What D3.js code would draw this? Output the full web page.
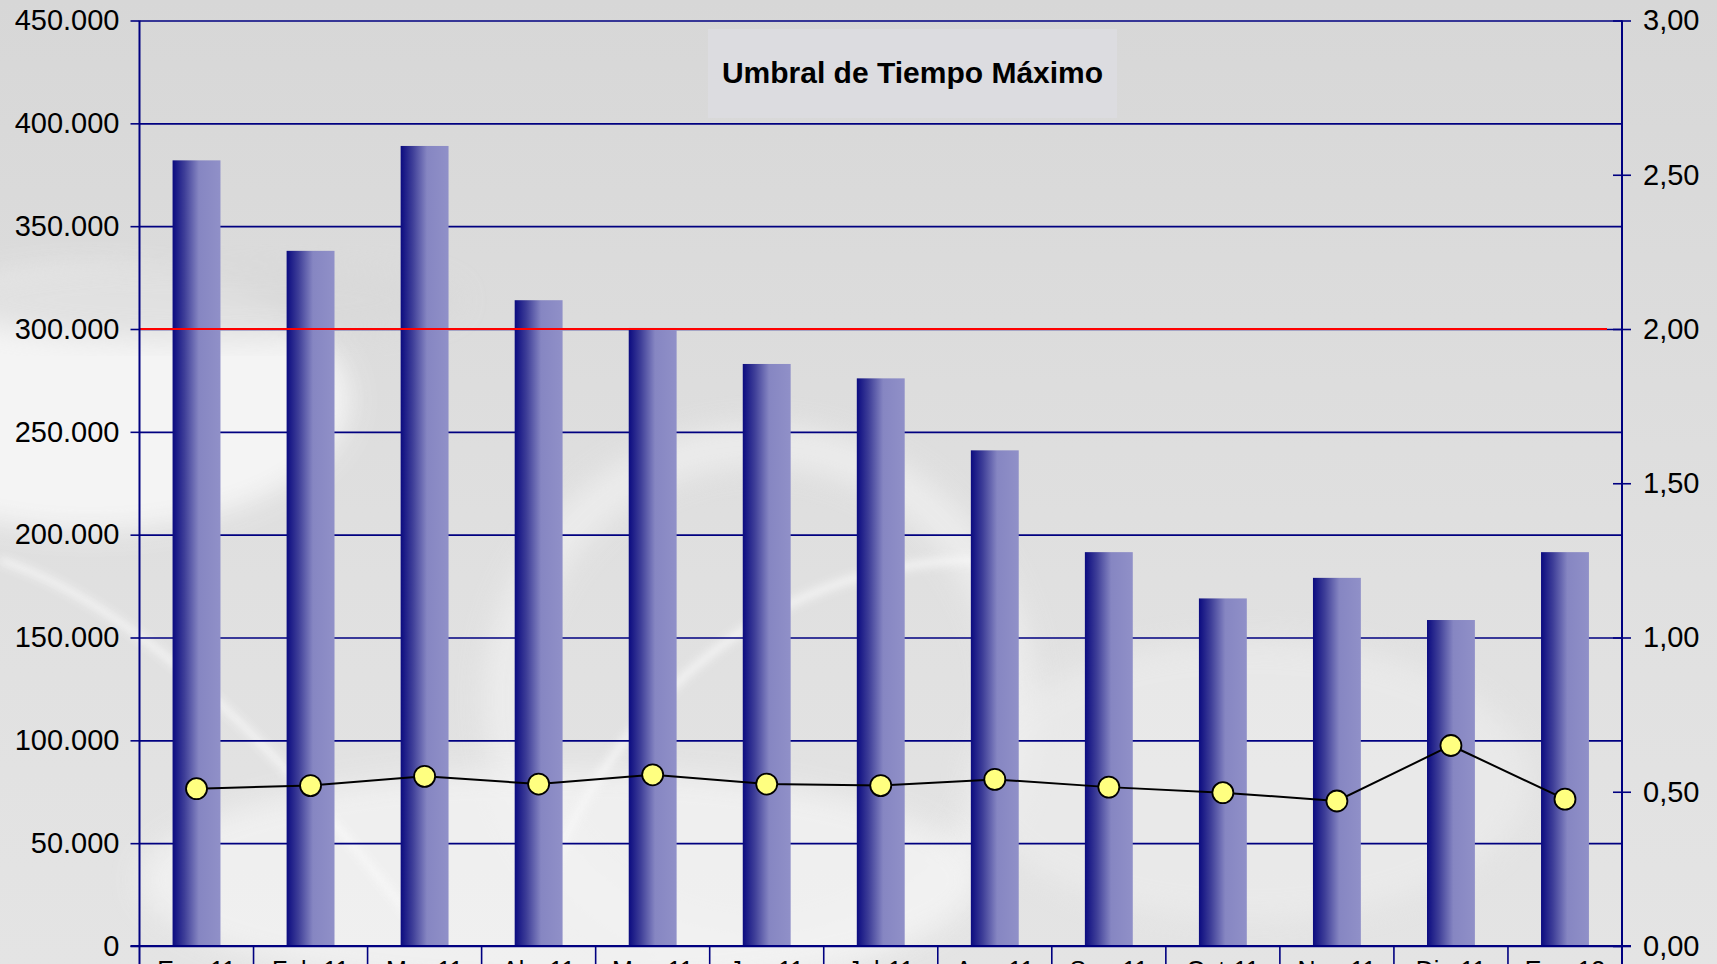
<!DOCTYPE html>
<html>
<head>
<meta charset="utf-8">
<script src="https://cdn.jsdelivr.net/npm/d3@7"></script>
<style>
    body { margin: 0; background: #d9d9d9; }
    svg { display: block; }
    text { font-family: "Liberation Sans", Arial, sans-serif; fill: #000; }
</style>
</head>
<body>
<svg id="chart" width="1717" height="964"></svg>
<script>
// Data
var months = ["Ene-11", "Feb-11", "Mar-11", "Abr-11", "May-11", "Jun-11", "Jul-11",
              "Ago-11", "Sep-11", "Oct-11", "Nov-11", "Dic-11", "Ene-12"];
var tiempoMaximo = [382000, 338000, 389000, 314000, 300500, 283000, 276000,
                    241000, 191500, 169000, 179000, 158500, 191500];
var ratio = [0.51, 0.52, 0.55, 0.525, 0.555, 0.525, 0.52, 0.54, 0.515, 0.497, 0.47, 0.65, 0.476];
var umbral = 300000;
var leftTicks = d3.range(0, 450001, 50000);
var rightTicks = d3.range(0, 3.01, 0.5);
var title = "Umbral de Tiempo Máximo";

var navy = "#000080";

var plot = { left: 139.5, right: 1622, top: 20.5, bottom: 946 };

var locale = d3.formatLocale({ decimal: ",", thousands: ".", grouping: [3], currency: ["", ""] });
var fmtLeft = locale.format(",.0f");
var fmtRight = locale.format(".2f");

var svg = d3.select("#chart");
var defs = svg.append("defs");

// Background: grey with soft light swirls
var bgGrad = defs.append("linearGradient")
    .attr("id", "bgGrad").attr("x1", 0).attr("y1", 0).attr("x2", 0).attr("y2", 1);
bgGrad.append("stop").attr("offset", "0%").attr("stop-color", "#d7d7d7");
bgGrad.append("stop").attr("offset", "60%").attr("stop-color", "#e0e0e0");
bgGrad.append("stop").attr("offset", "100%").attr("stop-color", "#e4e4e4");

defs.append("filter").attr("id", "blur")
    .attr("x", "-20%").attr("y", "-20%").attr("width", "140%").attr("height", "140%")
    .append("feGaussianBlur").attr("stdDeviation", 14);
defs.append("filter").attr("id", "blurSmall")
    .attr("x", "-20%").attr("y", "-20%").attr("width", "140%").attr("height", "140%")
    .append("feGaussianBlur").attr("stdDeviation", 4);

svg.append("rect")
    .attr("width", 1717).attr("height", 964)
    .attr("fill", "url(#bgGrad)");

var swirl = svg.append("g").attr("class", "swirl");
swirl.append("ellipse")
    .attr("cx", 90).attr("cy", 400).attr("rx", 260).attr("ry", 130)
    .attr("fill", "#f7f7f7").attr("opacity", 0.9).attr("filter", "url(#blur)");
swirl.append("ellipse")
    .attr("cx", 200).attr("cy", 300).attr("rx", 260).attr("ry", 40)
    .attr("fill", "#d9d9d9").attr("opacity", 0.7).attr("filter", "url(#blur)");
swirl.append("circle")
    .attr("cx", 760).attr("cy", 700).attr("r", 255)
    .attr("fill", "none").attr("stroke", "#f2f2f2").attr("stroke-width", 40)
    .attr("opacity", 0.7).attr("filter", "url(#blur)");
swirl.append("ellipse")
    .attr("cx", 560).attr("cy", 880).attr("rx", 420).attr("ry", 110)
    .attr("fill", "#f3f3f3").attr("opacity", 0.8).attr("filter", "url(#blur)");
swirl.append("ellipse")
    .attr("cx", 1250).attr("cy", 780).attr("rx", 280).attr("ry", 140)
    .attr("fill", "#eeeeee").attr("opacity", 0.6).attr("filter", "url(#blur)");
swirl.append("path")
    .attr("d", "M0,560 C120,600 260,720 420,930")
    .attr("fill", "none").attr("stroke", "#fafafa").attr("stroke-width", 6)
    .attr("opacity", 0.9).attr("filter", "url(#blurSmall)");
swirl.append("path")
    .attr("d", "M540,900 C600,720 760,560 980,560")
    .attr("fill", "none").attr("stroke", "#f8f8f8").attr("stroke-width", 8)
    .attr("opacity", 0.8).attr("filter", "url(#blurSmall)");

// Bar gradient (navy on the left, lavender on the right)
var barGrad = defs.append("linearGradient")
    .attr("id", "barGrad").attr("x1", 0).attr("y1", 0).attr("x2", 1).attr("y2", 0);
barGrad.append("stop").attr("offset", "0%").attr("stop-color", "#0b0b80");
barGrad.append("stop").attr("offset", "25%").attr("stop-color", "#3e3e98");
barGrad.append("stop").attr("offset", "55%").attr("stop-color", "#8686c2");
barGrad.append("stop").attr("offset", "100%").attr("stop-color", "#9090c8");

// Scales
var xScale = d3.scaleBand()
    .domain(months)
    .range([plot.left, plot.right])
    .paddingInner(0.58)
    .paddingOuter(0.29);

var yLeft = d3.scaleLinear()
    .domain([0, 450000])
    .range([plot.bottom, plot.top]);

var yRight = d3.scaleLinear()
    .domain([0, 3])
    .range([plot.bottom, plot.top]);

// Title box
var titleBox = svg.append("g").attr("class", "title");
titleBox.append("rect")
    .attr("x", 708).attr("y", 29).attr("width", 409).attr("height", 89)
    .attr("fill", "#dcdce0");
titleBox.append("text")
    .attr("x", 912.5).attr("y", 83)
    .attr("text-anchor", "middle")
    .attr("font-size", 30).attr("font-weight", "bold")
    .text(title);

// Horizontal gridlines
svg.append("g")
    .attr("class", "grid")
    .attr("transform", `translate(${plot.left}, 0)`)
    .call(d3.axisRight(yLeft)
        .tickValues(leftTicks)
        .tickSize(plot.right - plot.left)
        .tickFormat(""))
    .call(function(g) { g.select(".domain").remove(); })
    .selectAll("line")
        .attr("stroke", navy)
        .attr("stroke-width", 1.6);

// Bars
svg.append("g")
    .attr("class", "bars")
    .selectAll("rect")
    .data(tiempoMaximo)
    .enter()
    .append("rect")
        .attr("x", function(d, i) { return xScale(months[i]); })
        .attr("y", function(d) { return yLeft(d); })
        .attr("width", xScale.bandwidth())
        .attr("height", function(d) { return plot.bottom - yLeft(d); })
        .attr("fill", "url(#barGrad)");

// Threshold line (300.000)
svg.append("line")
    .attr("class", "umbral")
    .attr("x1", plot.left).attr("x2", 1607)
    .attr("y1", yLeft(umbral)).attr("y2", yLeft(umbral))
    .attr("stroke", "#ff0000")
    .attr("stroke-width", 2);

// Left axis
var leftAxis = svg.append("g")
    .attr("class", "axis")
    .attr("transform", `translate(${plot.left}, 0)`)
    .call(d3.axisLeft(yLeft)
        .tickValues(leftTicks)
        .tickSize(9)
        .tickPadding(11)
        .tickFormat(fmtLeft));
leftAxis.select(".domain").remove();
leftAxis.selectAll("line").attr("stroke", navy).attr("stroke-width", 1.6);
leftAxis.selectAll("text")
    .attr("font-size", 29)
    .attr("font-family", "Liberation Sans, Arial, sans-serif")
    .attr("fill", "#000");

// Right axis
var rightAxis = svg.append("g")
    .attr("class", "axis")
    .attr("transform", `translate(${plot.right}, 0)`)
    .call(d3.axisRight(yRight)
        .tickValues(rightTicks)
        .tickSizeInner(9)
        .tickSizeOuter(0)
        .tickPadding(12)
        .tickFormat(fmtRight));
rightAxis.select(".domain").remove();
rightAxis.selectAll("line")
    .attr("x1", -9)
    .attr("stroke", navy).attr("stroke-width", 1.6);
rightAxis.selectAll("text")
    .attr("font-size", 29)
    .attr("font-family", "Liberation Sans, Arial, sans-serif")
    .attr("fill", "#000");

// Vertical axis lines (running down past the category axis)
svg.append("g")
    .attr("class", "vaxes")
    .selectAll("line")
    .data([plot.left, plot.right])
    .enter()
    .append("line")
        .attr("x1", function(d) { return d; })
        .attr("x2", function(d) { return d; })
        .attr("y1", plot.top)
        .attr("y2", 990)
        .attr("stroke", navy)
        .attr("stroke-width", 2);

// Category axis: baseline, separators and labels
var xAxis = svg.append("g").attr("class", "xaxis");
xAxis.append("line")
    .attr("x1", plot.left - 9).attr("x2", plot.right + 9)
    .attr("y1", plot.bottom).attr("y2", plot.bottom)
    .attr("stroke", navy).attr("stroke-width", 2);
xAxis.selectAll(".sep")
    .data(months.slice(1))
    .enter()
    .append("line")
        .attr("class", "sep")
        .attr("x1", function(d) { return xScale(d) - xScale.step() * xScale.paddingInner() / 2; })
        .attr("x2", function(d) { return xScale(d) - xScale.step() * xScale.paddingInner() / 2; })
        .attr("y1", plot.bottom)
        .attr("y2", 990)
        .attr("stroke", navy).attr("stroke-width", 1.6);
xAxis.selectAll(".label")
    .data(months)
    .enter()
    .append("text")
        .attr("class", "label")
        .attr("x", function(d) { return xScale(d) + xScale.bandwidth() / 2; })
        .attr("y", 979)
        .attr("text-anchor", "middle")
        .attr("font-size", 25)
        .text(function(d) { return d; });

// Line series on the right axis
var line = d3.line()
    .x(function(d, i) { return xScale(months[i]) + xScale.bandwidth() / 2; })
    .y(function(d) { return yRight(d); });

svg.append("path")
    .datum(ratio)
    .attr("class", "ratio-line")
    .attr("d", line)
    .attr("fill", "none")
    .attr("stroke", "#000")
    .attr("stroke-width", 2);

svg.append("g")
    .attr("class", "markers")
    .selectAll("circle")
    .data(ratio)
    .enter()
    .append("circle")
        .attr("cx", function(d, i) { return xScale(months[i]) + xScale.bandwidth() / 2; })
        .attr("cy", function(d) { return yRight(d); })
        .attr("r", 10.5)
        .attr("fill", "#ffff80")
        .attr("stroke", "#000")
        .attr("stroke-width", 1.8);
</script>
</body>
</html>
